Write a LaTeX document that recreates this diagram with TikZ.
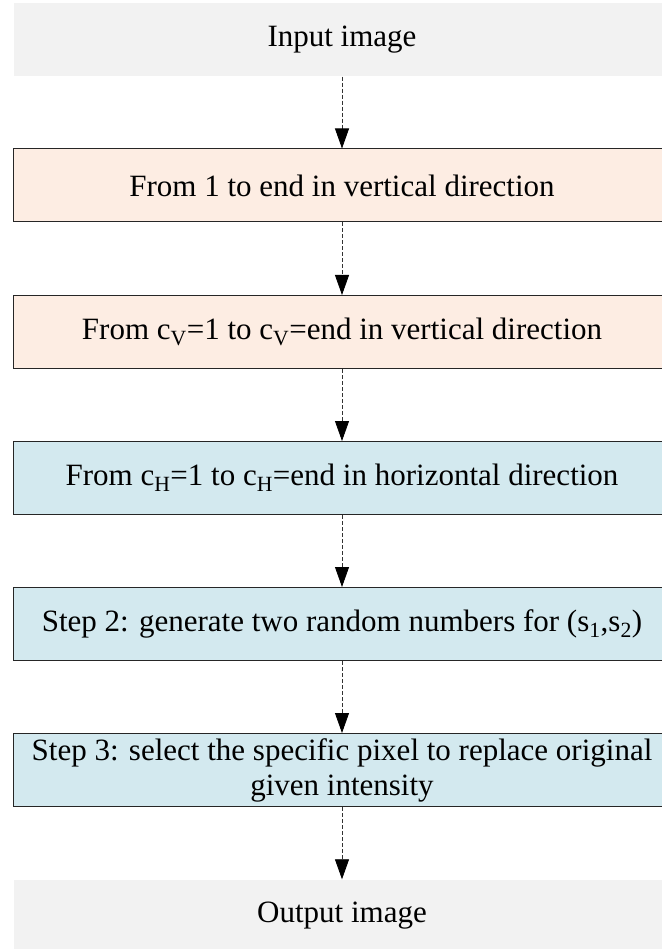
\documentclass[tikz,border=0pt]{standalone}
\usepackage{fontspec}
\setmainfont{Liberation Serif}
\usetikzlibrary{arrows.meta}
\definecolor{greyfill}{HTML}{F2F2F2}
\definecolor{peach}{HTML}{FDEDE3}
\definecolor{paleblue}{HTML}{D3E9EF}
\begin{document}
\begin{tikzpicture}[x=1pt,y=1pt,
  base/.style={rectangle, minimum width=657pt, minimum height=73pt, inner sep=0pt,
    align=center, font=\fontsize{31}{35}\selectfont},
  endbox/.style={base, fill=greyfill},
  peachbox/.style={base, fill=peach, draw=black!85, line width=1pt},
  bluebox/.style={base, fill=paleblue, draw=black!85, line width=1pt},
  link/.style={draw=black!80, line width=0.8pt, dash pattern=on 4pt off 2pt,
    -{Triangle[length=20pt,width=14pt,color=black,fill=black]}}]
\useasboundingbox (0,0) rectangle (661,-949);
\node[endbox]   (in)  at (342,-40)    {Input image};
\node[peachbox] (b1)  at (342,-185.5) {From 1 to end in vertical direction};
\node[peachbox] (b2)  at (342,-332)   {From c\textsubscript{V}=1 to c\textsubscript{V}=end in vertical direction};
\node[bluebox]  (b3)  at (342,-478)   {From c\textsubscript{H}=1 to c\textsubscript{H}=end in horizontal direction};
\node[bluebox]  (b4)  at (342,-624)   {Step 2: generate two random numbers for (s\textsubscript{1},s\textsubscript{2})};
\node[bluebox]  (b5)  at (342,-770)   {Step 3: select the specific pixel to replace original\\given intensity};
\node[endbox]   (out) at (342,-916)   {Output image};
\draw[link] (in)  -- (b1);
\draw[link] (b1) -- (b2);
\draw[link] (b2) -- (b3);
\draw[link] (b3) -- (b4);
\draw[link] (b4) -- (b5);
\draw[link] (b5) -- (out);
\end{tikzpicture}
\end{document}
